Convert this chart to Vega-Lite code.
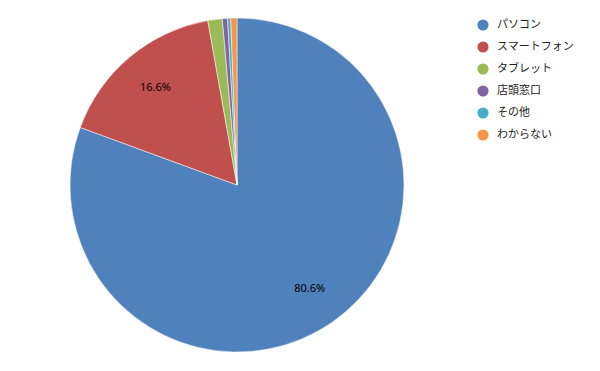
{
  "$schema": "https://vega.github.io/schema/vega-lite/v6.json",
  "width": 474,
  "height": 370,
  "autosize": {"type": "none"},
  "padding": {"left": 0, "top": 0, "right": 126, "bottom": 1},
  "background": "white",
  "view": {"stroke": null},
  "data": {
    "values": [
      {"category": "パソコン", "value": 0.806, "order": 1},
      {"category": "スマートフォン", "value": 0.166, "order": 2},
      {"category": "タブレット", "value": 0.014, "order": 3},
      {"category": "店頭窓口", "value": 0.005, "order": 4},
      {"category": "その他", "value": 0.003, "order": 5},
      {"category": "わからない", "value": 0.006, "order": 6}
    ]
  },
  "encoding": {
    "theta": {"field": "value", "type": "quantitative", "stack": true},
    "order": {"field": "order", "type": "quantitative"}
  },
  "layer": [
    {
      "mark": {"type": "arc", "outerRadius": 167, "stroke": "white", "strokeWidth": 0.5},
      "encoding": {
        "color": {
          "field": "category",
          "type": "nominal",
          "scale": {
            "domain": ["パソコン", "スマートフォン", "タブレット", "店頭窓口", "その他", "わからない"],
            "range": ["#4F81BD", "#C0504D", "#9BBB59", "#8064A2", "#4BACC6", "#F79646"]
          },
          "legend": {
            "title": null,
            "orient": "none",
            "legendX": 477,
            "legendY": 19,
            "symbolType": "circle",
            "symbolSize": 125,
            "symbolStrokeWidth": 0,
            "labelFont": "Noto Sans CJK JP",
            "labelFontSize": 11,
            "labelColor": "#222222",
            "labelOffset": 8,
            "rowPadding": 10,
            "symbolOffset": 0
          }
        }
      }
    },
    {
      "transform": [{"filter": "datum.value > 0.05"}],
      "mark": {"type": "text", "radius": 127, "font": "Noto Sans", "fontSize": 11, "color": "black"},
      "encoding": {
        "text": {"field": "value", "type": "quantitative", "format": ".1%"},
        "detail": {"field": "category"}
      }
    }
  ]
}
